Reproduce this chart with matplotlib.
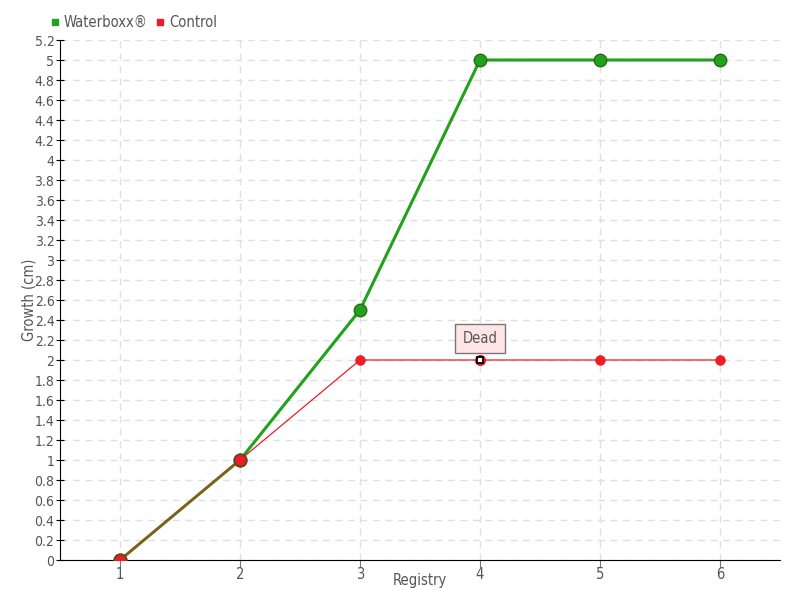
import matplotlib
matplotlib.use("Agg")
import matplotlib.pyplot as plt
import numpy as np
from matplotlib.lines import Line2D

registry = [1, 2, 3, 4, 5, 6]
waterboxx = [0, 1, 2.5, 5, 5, 5]
control = [0, 1, 2, 2, 2, 2]
y_ticks = [round(0.2 * i, 1) for i in range(27)]
dead_index = 3

plt.rcParams['font.family'] = ['DejaVu Sans']
plt.rcParams['font.stretch'] = 'condensed'
fig = plt.figure(figsize=(8, 6), dpi=100)
ax = fig.add_axes([60/800, 40/600, 720/800, 520/600])
ax.set_xlim(0.5, 6.5)
ax.set_ylim(0, 5.2)

txt = '#555555'
ax.set_yticks(y_ticks)
ax.set_yticklabels([('%g' % v) for v in y_ticks], color=txt, fontsize=10)
ax.set_xticks(registry)
ax.set_xticklabels([str(v) for v in registry], color=txt, fontsize=10.5)
ax.grid(True, color='#e0e0e0', linestyle=(0, (5, 4)), linewidth=1)
ax.set_axisbelow(True)
for s in ['top', 'right']:
    ax.spines[s].set_visible(False)
ax.spines['left'].set_color('black')
ax.spines['bottom'].set_color('black')
ax.tick_params(axis='y', direction='inout', length=6, color='black', pad=1)
ax.tick_params(axis='x', direction='out', length=5, color='#777777', pad=0)

ax.set_xlabel('Registry', color=txt, fontsize=10.5, va='center')
ax.xaxis.set_label_coords(0.5, -20/520)
ax.set_ylabel('Growth (cm)', color=txt, fontsize=10.5, va='center')
ax.yaxis.set_label_coords(-31/720, 0.5)

ax.plot(registry, waterboxx, color='#22a11b', linewidth=2.2, zorder=3,
        marker='o', markersize=9, markerfacecolor='#22a11b',
        markeredgecolor='#2a6a1a', markeredgewidth=1)
ax.plot(registry, control, color='#ee1c25', linewidth=0.9, zorder=4)
mx = [x for i, x in enumerate(registry) if i != dead_index]
my = [y for i, y in enumerate(control) if i != dead_index]
ax.plot(mx, my, linestyle='none', marker='o', markersize=7,
        markerfacecolor='#ee1c25', markeredgecolor='#ee1c25',
        markeredgewidth=0.5, zorder=5)
# first two red points with dark outline
ax.plot(registry[:2], control[:2], linestyle='none', marker='o', markersize=9,
        markerfacecolor='#ee1c25', markeredgecolor='#5a4a1a',
        markeredgewidth=1.2, zorder=6)
ax.plot([registry[dead_index]], [control[dead_index]], linestyle='none', marker='o',
        markersize=7, markerfacecolor='#ee1c25', markeredgecolor='#ee1c25', zorder=6)
ax.plot([registry[dead_index]], [control[dead_index]], linestyle='none', marker='s',
        markersize=5, markerfacecolor='white', markeredgecolor='black',
        markeredgewidth=1.3, zorder=7)

ax.annotate('Dead', xy=(registry[dead_index], control[dead_index]),
            xytext=(0, 15.5), textcoords='offset points', ha='center', va='center',
            fontsize=10.5, color=txt,
            bbox=dict(boxstyle='square,pad=0.5', facecolor='#ffe6e6',
                      edgecolor='#777777', linewidth=1),
            zorder=8)

handles = [Line2D([], [], linestyle='none', marker='s', markersize=5,
                  markerfacecolor='#22a11b', markeredgecolor='#22a11b'),
           Line2D([], [], linestyle='none', marker='s', markersize=5,
                  markerfacecolor='#ee1c25', markeredgecolor='#ee1c25')]
fig.legend(handles, ['Waterboxx®', 'Control'], loc='upper left',
           bbox_to_anchor=(40/800, 1 - 5/600), ncol=2, frameon=False,
           fontsize=10.5, handlelength=0.6, handletextpad=0.3, columnspacing=0.6,
           labelcolor=txt, borderpad=0.2)

fig.savefig('out.png', dpi=100)
